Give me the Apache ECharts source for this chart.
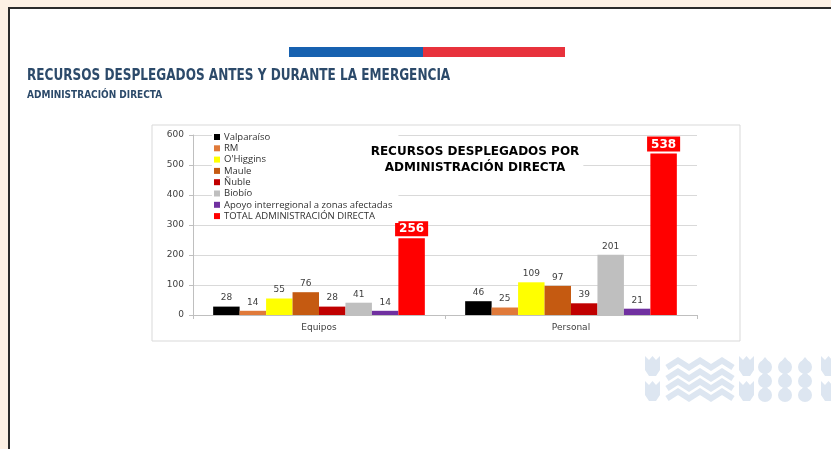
<!DOCTYPE html>
<html>
<head>
<meta charset="utf-8">
<script src="https://cdn.jsdelivr.net/npm/echarts@6/dist/echarts.min.js"></script>
<style>
  html, body { margin: 0; padding: 0; background: #fdf1e5; }
  #echarts-main { width: 831px; height: 449px; }
</style>
</head>
<body>
<div id="echarts-main"></div>
<script>
// datos del gráfico
var categorias = ['Equipos', 'Personal'];
var regiones = ['Valparaíso', 'RM', "O'Higgins", 'Maule', 'Ñuble', 'Biobío',
                'Apoyo interregional a zonas afectadas', 'TOTAL ADMINISTRACIÓN DIRECTA'];
var valparaiso = [28, 46];
var rm = [14, 25];
var ohiggins = [55, 109];
var maule = [76, 97];
var nuble = [28, 39];
var biobio = [41, 201];
var apoyo = [14, 21];
var total = [256, 538];
var valores = [valparaiso, rm, ohiggins, maule, nuble, biobio, apoyo, total];
var colores = ['#000000', '#e07a3a', '#ffff00', '#c55a11', '#c00000', '#bfbfbf', '#7030a0', '#ff0000'];
var ejeY = { min: 0, max: 600, intervalo: 100 };

var myChart = echarts.init(document.getElementById('echarts-main'));

var series = regiones.map(function (nombre, i) {
    var esTotal = i === regiones.length - 1;
    return {
        name: nombre,
        type: 'bar',
        data: valores[i],
        barGap: '0%',
        barCategoryGap: '16%',
        itemStyle: { color: colores[i] },
        label: esTotal ? {
            show: true, position: 'top', distance: 2,
            color: '#fff', fontWeight: 'bold', fontSize: 12, fontFamily: 'DejaVu Sans',
            backgroundColor: '#ff0000', padding: [2, 4, 1, 4]
        } : {
            show: true, position: 'top', distance: 4,
            color: '#404040', fontSize: 9, fontFamily: 'DejaVu Sans'
        }
    };
});

// logo de fondo (decoración)
var celeste = '#dde6f1';
function tulipan(x, y) {
    return { type: 'polygon', silent: true, z: 1,
        shape: { points: [[x, y], [x + 4, y + 4], [x + 7.5, y], [x + 11, y + 4], [x + 15, y],
                          [x + 15, y + 14], [x + 11, y + 20], [x + 4, y + 20], [x, y + 14]] },
        style: { fill: celeste } };
}
function ola(y) {
    var pts = [];
    for (var k = 0; k <= 6; k++) pts.push([667 + k * 11, y + (k % 2 ? -3.5 : 3.5)]);
    return { type: 'polyline', silent: true, z: 1,
        shape: { points: pts }, style: { stroke: celeste, lineWidth: 6, fill: null, lineJoin: 'miter' } };
}
var logo = [tulipan(645, 356), tulipan(645, 381), tulipan(739, 356), tulipan(739, 381),
            tulipan(821, 356), tulipan(821, 381),
            ola(364), ola(375), ola(385), ola(395)];
[765, 785, 805].forEach(function (cx) {
    [367, 381, 395].forEach(function (cy) {
        logo.push({ type: 'circle', silent: true, z: 1, shape: { cx: cx, cy: cy, r: 7 }, style: { fill: celeste } });
        logo.push({ type: 'polygon', silent: true, z: 1,
            shape: { points: [[cx - 4, cy - 5], [cx, cy - 10], [cx + 4, cy - 5]] }, style: { fill: celeste } });
    });
});

option1 = {
    backgroundColor: '#fdf1e5',
    animation: false,
    grid: { left: 193, top: 135, width: 504, height: 180, containLabel: false },
    legend: {
        data: regiones,
        orient: 'vertical',
        left: 212, top: 130,
        icon: 'rect', itemWidth: 6, itemHeight: 6, itemGap: 1.3,
        backgroundColor: '#fff', padding: [2, 6, 2, 2],
        textStyle: { fontSize: 9.5, color: '#303030', fontFamily: 'Open Sans', padding: [0, 0, 0, -1] }
    },
    xAxis: {
        type: 'category',
        data: categorias,
        axisLine: { lineStyle: { color: '#bfbfbf' } },
        axisTick: { show: true, length: 4, lineStyle: { color: '#bfbfbf' } },
        axisLabel: { fontSize: 9, color: '#404040', fontFamily: 'DejaVu Sans', margin: 8 }
    },
    yAxis: {
        type: 'value',
        min: ejeY.min, max: ejeY.max, interval: ejeY.intervalo,
        axisLine: { show: true, lineStyle: { color: '#bfbfbf' } },
        axisTick: { show: true, length: 4, lineStyle: { color: '#bfbfbf' } },
        axisLabel: { fontSize: 9, color: '#404040', fontFamily: 'DejaVu Sans', margin: 9 },
        splitLine: { lineStyle: { color: '#d9d9d9' } }
    },
    graphic: [
        // hoja blanca con borde
        { type: 'rect', z: -10, silent: true, shape: { x: 9, y: 8, width: 840, height: 460 },
          style: { fill: '#ffffff', stroke: '#2b2b2b', lineWidth: 2 } },
        // franja bandera
        { type: 'rect', z: 1, silent: true, shape: { x: 289, y: 47, width: 134, height: 10 }, style: { fill: '#1761b0' } },
        { type: 'rect', z: 1, silent: true, shape: { x: 423, y: 47, width: 142, height: 10 }, style: { fill: '#e8323c' } },
        { type: 'text', z: 1, silent: true, x: 27, y: 68, scaleX: 0.84,
          style: { text: 'RECURSOS DESPLEGADOS ANTES Y DURANTE LA EMERGENCIA', fill: '#2c4a6a',
                   font: 'bold 16px "Liberation Sans Narrow", "DejaVu Sans Condensed", sans-serif' } },
        { type: 'text', z: 1, silent: true, x: 27, y: 90,
          style: { text: 'ADMINISTRACIÓN DIRECTA', fill: '#2c4a6a',
                   font: 'bold 10px "Liberation Sans Narrow", "DejaVu Sans Condensed", sans-serif' } },
        // marco del gráfico
        { type: 'rect', z: -5, silent: true, shape: { x: 152, y: 125, width: 588, height: 216 },
          style: { fill: '#ffffff', stroke: '#d9d9d9', lineWidth: 1 } },
        // título interior
        { type: 'text', z: 5, silent: true, x: 475, y: 142,
          style: { text: 'RECURSOS DESPLEGADOS POR\nADMINISTRACIÓN DIRECTA', align: 'center',
                   fill: '#000', font: 'bold 12px "DejaVu Sans", sans-serif', lineHeight: 16,
                   backgroundColor: '#fff', padding: [2, 4, 0, 4] } }
    ].concat(logo),
    series: series
};

myChart.setOption(option1);
</script>
</body>
</html>
